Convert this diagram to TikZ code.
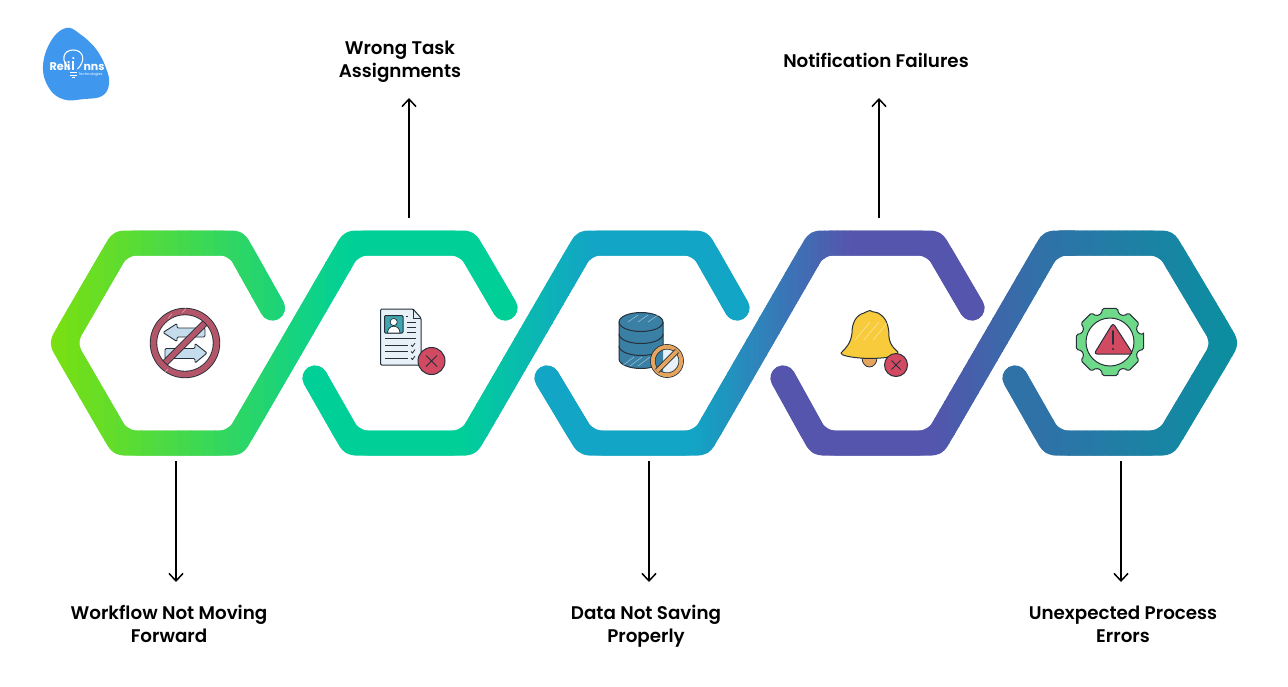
\documentclass[tikz,border=0pt]{standalone}
\usepackage{fontspec}
\setmainfont{Poppins}[BoldFont={Poppins SemiBold}]
\newfontfamily\logofont{Poppins}[UprightFont={* Bold}]
\usetikzlibrary{arrows.meta,calc}
\definecolor{gA}{HTML}{7AE010}
\definecolor{gB}{HTML}{00D098}
\definecolor{gC}{HTML}{12A5C5}
\definecolor{gD}{HTML}{5555AD}
\definecolor{gE}{HTML}{2F72A8}
\definecolor{gF}{HTML}{0A90A0}
\definecolor{inkdark}{HTML}{26303A}
\definecolor{logoblue}{HTML}{3F97EE}
\definecolor{ringred}{HTML}{B4566A}
\definecolor{paleblue}{HTML}{C5DCEC}
\definecolor{crossred}{HTML}{D24A62}
\definecolor{dbblue}{HTML}{3A80A5}
\definecolor{banorange}{HTML}{E5A55F}
\definecolor{bellyellow}{HTML}{F8CB3C}
\definecolor{geargreen}{HTML}{6FD98A}
\definecolor{tealphoto}{HTML}{3FA6B0}
\definecolor{docpale}{HTML}{E8F0F8}
\newcommand{\lstrut}{\rule[-6.9pt]{0pt}{23pt}}
\tikzset{
  band/.style={line width=25,line cap=round,line join=round,rounded corners=3},
  bandfillet/.style={line width=25,line cap=round,line join=round,rounded corners=15.5},
  lbl/.style={font=\fontsize{18.3}{23}\selectfont\bfseries,align=center,text=black,inner sep=0,
    execute at begin node=\lstrut,execute at end node=\lstrut},
  flow/.style={draw=black,line width=1.5,-{Straight Barb[length=7.5,width=14,line width=1.5]}},
  ink/.style={draw=inkdark,line width=1},
  hatch/.style={draw=white,line width=.5,opacity=.55},
  logotext/.style={inner sep=0,text=white,anchor=base},
}
% one band in one colour: the sharp stroke plus a rounder copy that fills the inner corners
\newcommand{\twostroke}[2]{\draw[band,draw=#2] #1;\draw[bandfillet,draw=#2] #1;}
% strip-wise gradient along x: #1 path, #2 x0, #3 x1, #4 col0, #5 col1, #6 xmin, #7 xmax
\newcommand{\gradband}[7]{%
  \begin{scope}\clip (#6,0) rectangle (#2,686);\twostroke{#1}{#4}\end{scope}
  \begin{scope}\clip (#3,0) rectangle (#7,686);\twostroke{#1}{#5}\end{scope}
  \foreach \k in {0,...,23}{%
    \pgfmathsetmacro{\xa}{#2+(#3-#2)*\k/24}%
    \pgfmathsetmacro{\xb}{#2+(#3-#2)*(\k+1)/24+0.6}%
    \pgfmathtruncatemacro{\pc}{100-100*(\k+.5)/24}%
    \colorlet{stripcol}{#4!\pc!#5}%
    \begin{scope}\clip (\xa,0) rectangle (\xb,686);\twostroke{#1}{stripcol}\end{scope}
  }%
}
\begin{document}
\begin{tikzpicture}[x=1pt,y=-1pt]
\useasboundingbox (0,0) rectangle (1288,686);
\fill[white] (0,0) rectangle (1288,686);

% ribbon
\gradband{(272.5,308) -- (236,243) -- (120.5,243) -- (62.5,343) -- (120.5,443) -- (235.5,443) -- (351.5,243) -- (467,243) -- (505,308)}{55}{350}{gA}{gB}{30}{530}
\gradband{(315,378) -- (352,443) -- (468.5,443) -- (584.5,243) -- (700,243) -- (737,308)}{460}{590}{gB}{gC}{290}{760}
\gradband{(547,378) -- (586,443) -- (701.5,443) -- (817,243) -- (934,243) -- (972,308)}{695}{850}{gC}{gD}{525}{995}
\gradband{(783,378) -- (819,443) -- (935,443) -- (1051,243) -- (1080,243)}{930}{1045}{gD}{gE}{760}{1075}
\gradband{(1060,243) -- (1166,243) -- (1225.5,343) -- (1166,443) -- (1052,443) -- (1015,378)}{1045}{1240}{gE}{gF}{990}{1250}

% logo
\fill[logoblue] plot[smooth cycle,tension=.7] coordinates {(66,28) (80,34) (96,49) (106,68) (109,84) (102,96) (84,99) (64,99.5) (49,88) (43,66) (51,41)};
\draw[white,line width=1.1] (70,69) .. controls (60,61) and (63,50) .. (73,50) .. controls (84,50) and (86,61) .. (77.5,69);
\fill[white] (73.3,58) circle (1.2);
\fill[white] (72.3,61) rectangle (74.3,70);
\draw[white,line width=.9] (69.5,72.5) -- (77,72.5) (70,75) -- (76.5,75) (71.5,77.5) -- (75,77.5);
\node[logotext,font=\fontsize{11.2}{12}\logofont] (logoA) at (60,70) {Reli};
\node[logotext,font=\fontsize{11}{12}\logofont] (logoB) at (94,70) {nns};
\node[logotext,font=\fontsize{3.6}{4}\selectfont] (logoC) at (90.5,75) {Technologies};

% icon 1: no swap
\begin{scope}
  \draw[ink,fill=paleblue,line width=.9,rounded corners=1.2] (205,328) -- (177,328) -- (177,323.5) -- (163,332.5) -- (177,341.5) -- (177,337) -- (205,337) -- cycle;
  \draw[ink,fill=paleblue,line width=.9,rounded corners=1.2] (165,348.5) -- (195,348.5) -- (195,343.5) -- (207,353) -- (195,363) -- (195,358.5) -- (165,358.5) -- cycle;
  \draw[draw=inkdark,line width=7] (161.5,366.5) -- (208.5,319.5);
  \draw[draw=ringred,line width=5] (161.5,366.5) -- (208.5,319.5);
  \draw[draw=inkdark,line width=7.4] (185,343) circle (31.5);
  \draw[draw=ringred,line width=5.6] (185,343) circle (31.5);
  \foreach \d in {0,14,28}{\draw[hatch] (168+\d,318.5-.4*\d) -- (172+\d,314-.4*\d);\draw[hatch] (164+\d,373-.2*\d) -- (168+\d,369-.2*\d);}
\end{scope}

% icon 2: document with cross
\begin{scope}
  \draw[ink,fill=docpale,line join=round,rounded corners=1.2] (380.5,309) -- (413,309) -- (421,318) -- (421,365) -- (380.5,365) -- cycle;
  \draw[ink,line join=round] (413,309) -- (413,318) -- (421,318);
  \draw[ink,fill=tealphoto,rounded corners=1] (384.5,315.5) rectangle (403,333);
  \fill[white,draw=inkdark,line width=.7] (393.7,322) circle (3.6);
  \fill[white,draw=inkdark,line width=.7] (387.5,333) .. controls (387.5,324) and (400,324) .. (400,333) -- cycle;
  \draw[ink,line width=.8] (407,322.5) -- (416,322.5) (407,327.5) -- (416,327.5) (407,332) -- (416,332) (406,316) -- (408,316);
  \draw[ink,line width=.8] (385,338) -- (416,338) (385,345) -- (408,345) (385,351.5) -- (408,351.5) (385,358) -- (408,358);
  \draw[ink,line width=.8] (411,345) -- (412.5,346.5) -- (415,343) (411,351.5) -- (412.5,353) -- (415,349.5) (411,358) -- (412.5,359.5) -- (415,356);
  \fill[crossred,draw=inkdark,line width=1] (431.5,361) circle (13.5);
  \draw[ink,line width=1] (426,355.5) -- (437,366.5) (437,355.5) -- (426,366.5);
\end{scope}

% icon 3: database with ban
\begin{scope}
  \path[fill=dbblue,draw=inkdark,line width=1] (619,322) -- (619,359) arc[start angle=180,end angle=0,x radius=22,y radius=9.5] -- (663,322) arc[start angle=0,end angle=-180,x radius=22,y radius=9.5] -- cycle;
  \draw[ink] (619,322) arc[start angle=180,end angle=0,x radius=22,y radius=9.5];
  \draw[ink] (619,334) arc[start angle=180,end angle=0,x radius=22,y radius=9.5];
  \draw[ink] (619,346) arc[start angle=180,end angle=0,x radius=22,y radius=9.5];
  \foreach \d in {0,8,16}{\draw[hatch] (622+\d,366) -- (634+\d,357);}
  \foreach \d in {0,10,20}{\draw[hatch] (628+\d,322) -- (638+\d,315);}
  \fill[docpale] (667,361) circle (13);
  \begin{scope}\clip (650,340) rectangle (663,380);\fill[dbblue] (667,361) circle (13);\end{scope}
  \draw[draw=inkdark,line width=5.4] (667,361) circle (14.2);
  \draw[draw=banorange,line width=3.8] (667,361) circle (14.2);
  \draw[draw=inkdark,line width=5.4] (657,371) -- (677,351);
  \draw[draw=banorange,line width=3.8] (657,371) -- (677,351);
\end{scope}

% icon 4: bell with cross
\begin{scope}
  \path[fill=banorange,draw=inkdark,line width=.8] (862,358) arc[start angle=180,end angle=0,x radius=7.5,y radius=9] -- cycle;
  \path[fill=bellyellow,draw=inkdark,line width=1,line join=round] (870,310.5) .. controls (873,313) and (877,311) .. (881,315) .. controls (888,320) and (889,330) .. (889,337) .. controls (890,346) and (896,350) .. (898,352) .. controls (899,356) and (890,358) .. (870,358.5) .. controls (850,358) and (840,355) .. (841,353) .. controls (846,348) and (851,343) .. (852,333) .. controls (852,323) and (856,315) .. (864,313) .. controls (866,312) and (868,311) .. (870,310.5) -- cycle;
  \foreach \d in {0,9,18}{\draw[hatch] (855+\d,340) -- (870+\d,322);}
  \fill[crossred,draw=inkdark,line width=1] (896,365) circle (11.5);
  \draw[ink] (891.5,360.5) -- (900.5,369.5) (900.5,360.5) -- (891.5,369.5);
\end{scope}

% icon 5: gear with warning
\begin{scope}[shift={(1110,342)}]
  \path[fill=geargreen,draw=inkdark,line width=1,line join=round,rounded corners=1.6]
    (-12.5:34.5)
    \foreach \a in {0,45,...,315}{
      -- (\a-12.5:34.5) -- (\a+12.5:34.5) -- (\a+17:29.5) -- (\a+28:29.5)
    } -- cycle;
  \fill[white,draw=inkdark,line width=1] (0,0) circle (24);
\end{scope}
\fill[crossred,draw=inkdark,line width=1,line join=round,rounded corners=3] (1113,323) -- (1133,354) -- (1094,354) -- cycle;
\draw[inkdark,line width=1.8,line cap=round] (1113,331) -- (1113,344);
\fill[inkdark] (1113,349) circle (1.2);

% labels
\node[lbl] (wrong) at (400,62.6) {Wrong Task\\Assignments};
\node[lbl] (notif) at (876,63) {Notification Failures};
\node[lbl] (work) at (169,627.6) {Workflow Not Moving\\Forward};
\node[lbl] (data) at (646,627.6) {Data Not Saving\\Properly};
\node[lbl] (unexp) at (1123,627.6) {Unexpected Process\\Errors};

% connectors
\coordinate (s1) at (176,461); \coordinate (e1) at (176,582);
\coordinate (s2) at (409,218); \coordinate (e2) at (409,98);
\coordinate (s3) at (649,461); \coordinate (e3) at (649,582);
\coordinate (s4) at (879,218); \coordinate (e4) at (879,98);
\coordinate (s5) at (1121,461); \coordinate (e5) at (1121,582);
\foreach \i in {1,...,5}{\draw[flow] (s\i) -- (e\i);}
\end{tikzpicture}
\end{document}
